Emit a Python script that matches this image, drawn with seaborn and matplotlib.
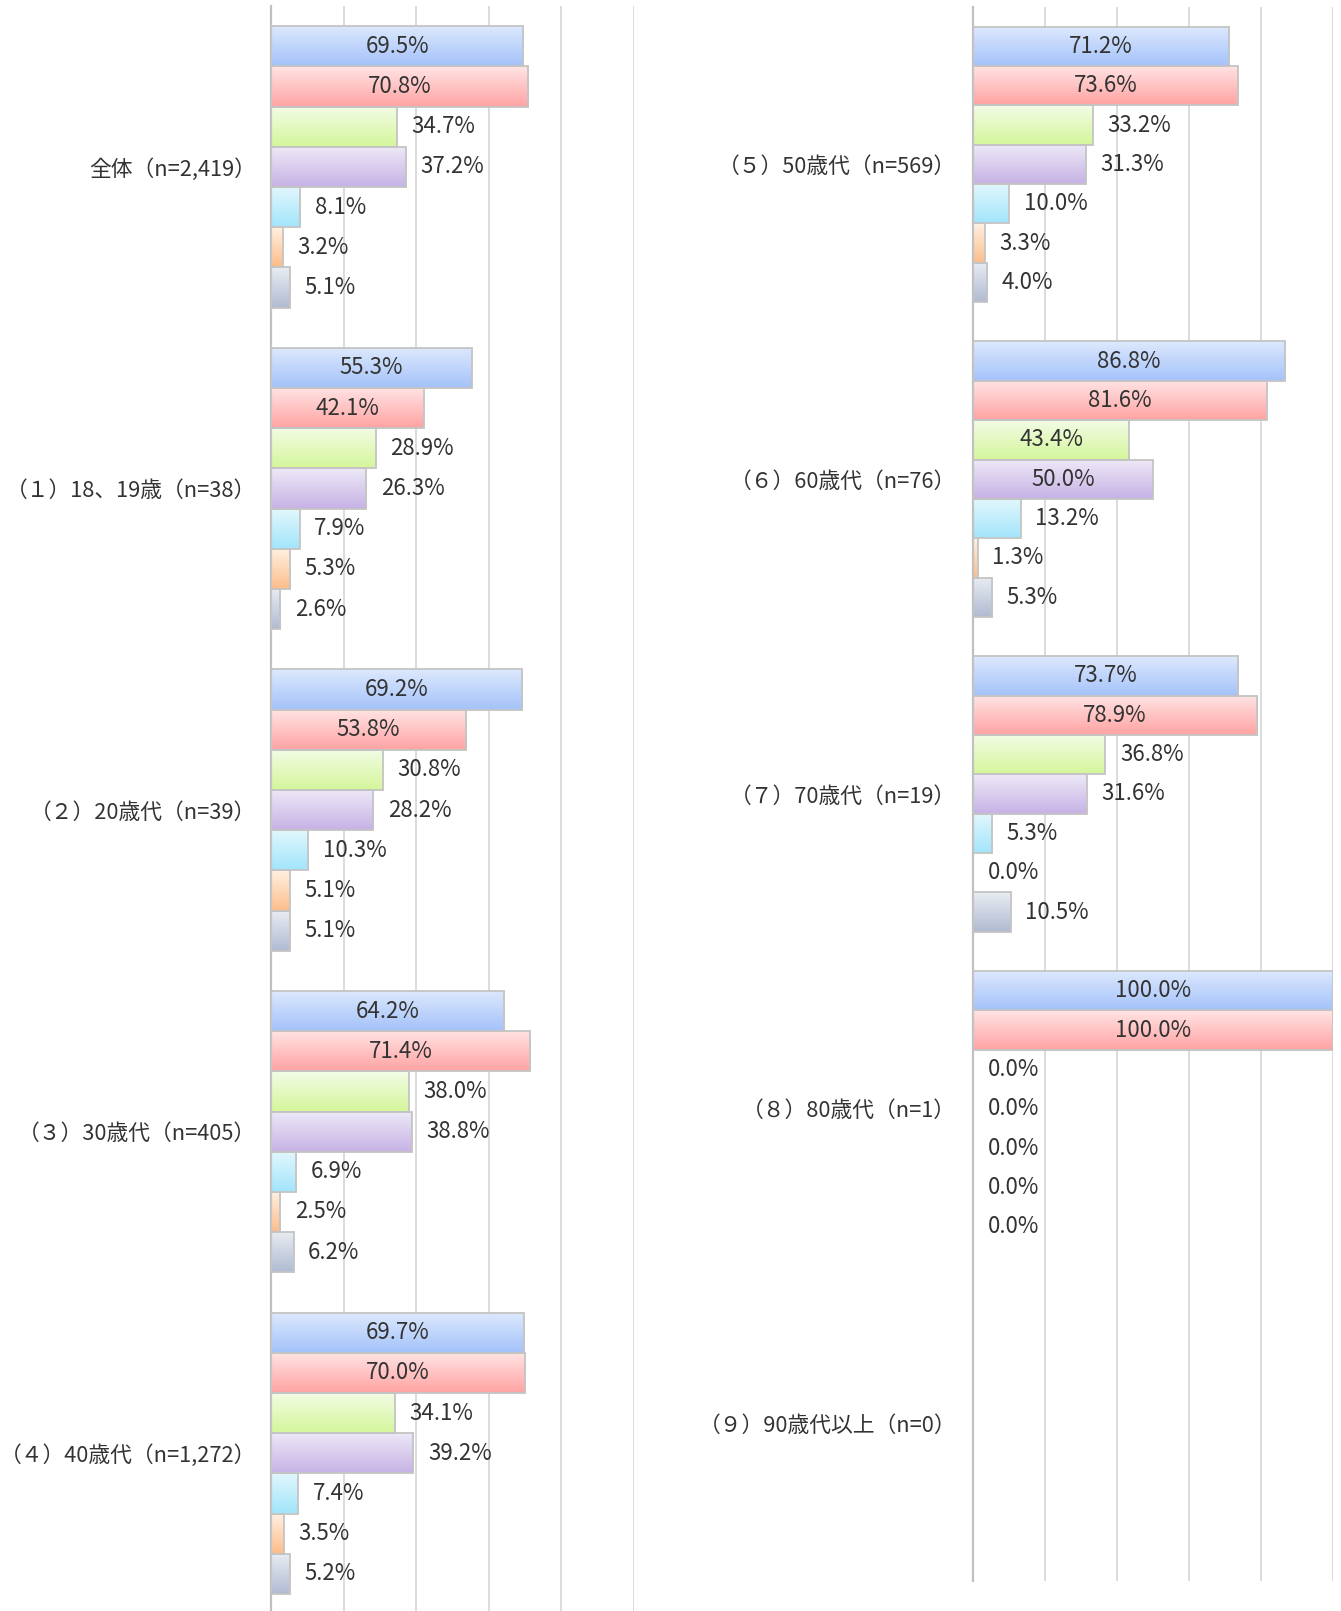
import numpy as np
import pandas as pd
import matplotlib
matplotlib.use("Agg")
import matplotlib.pyplot as plt
import matplotlib.colors as mcolors
import seaborn as sns

# --- data ---
series = ["項目1", "項目2", "項目3", "項目4", "項目5", "項目6", "項目7"]

left_groups = ["全体（n=2,419）", "（１）18、19歳（n=38）", "（２）20歳代（n=39）",
               "（３）30歳代（n=405）", "（４）40歳代（n=1,272）"]
left_values = [
    [69.5, 70.8, 34.7, 37.2, 8.1, 3.2, 5.1],
    [55.3, 42.1, 28.9, 26.3, 7.9, 5.3, 2.6],
    [69.2, 53.8, 30.8, 28.2, 10.3, 5.1, 5.1],
    [64.2, 71.4, 38.0, 38.8, 6.9, 2.5, 6.2],
    [69.7, 70.0, 34.1, 39.2, 7.4, 3.5, 5.2],
]

right_groups = ["（５）50歳代（n=569）", "（６）60歳代（n=76）", "（７）70歳代（n=19）",
                "（８）80歳代（n=1）", "（９）90歳代以上（n=0）"]
right_values = [
    [71.2, 73.6, 33.2, 31.3, 10.0, 3.3, 4.0],
    [86.8, 81.6, 43.4, 50.0, 13.2, 1.3, 5.3],
    [73.7, 78.9, 36.8, 31.6, 5.3, 0.0, 10.5],
    [100.0, 100.0, 0.0, 0.0, 0.0, 0.0, 0.0],
    [np.nan] * 7,
]

# gradient colours per series (top, bottom)
grad_colors = [
    ("#dde9fd", "#a4c2fa"),
    ("#ffe4e4", "#ffa3a3"),
    ("#f3fce6", "#d4f69a"),
    ("#eee9f7", "#c6b2e5"),
    ("#e3f7fd", "#a2e5fb"),
    ("#fff1e3", "#fdbd8a"),
    ("#e9ecf2", "#b0bbd2"),
]

sns.set_style("white")
plt.rcParams["font.family"] = ["Noto Sans CJK JP", "DejaVu Sans"]
TEXT = "#333333"
FS = 16
FS_CAT = 15.7


def to_long(groups, values):
    rows = []
    for g, vals in zip(groups, values):
        for s, v in zip(series, vals):
            rows.append({"group": g, "series": s, "value": v})
    return pd.DataFrame(rows)


def gradient_fill(ax, patch, top, bottom):
    x0, y0 = patch.get_x(), patch.get_y()
    w, h = patch.get_width(), patch.get_height()
    if w <= 0:
        return
    c1 = np.array(mcolors.to_rgb(top))
    c2 = np.array(mcolors.to_rgb(bottom))
    t = np.linspace(0, 1, 64)[:, None]
    img = (c1 * (1 - t) + c2 * t)[:, None, :]
    ymin, ymax = min(y0, y0 + h), max(y0, y0 + h)
    # y axis is inverted, so ymin is the visual top
    im = ax.imshow(img, extent=(x0, x0 + w, ymax, ymin), origin="upper",
                   aspect="auto", interpolation="bilinear", zorder=2)
    im.set_clip_path(patch)
    patch.set_facecolor("none")
    patch.set_zorder(3)


def draw_panel(ax, groups, values, pad):
    df = to_long(groups, values)
    sns.barplot(data=df, y="group", x="value", hue="series", order=groups,
                hue_order=series, orient="h", width=0.875, dodge=True,
                errorbar=None, legend=False, ax=ax,
                edgecolor="#c4c4c4", linewidth=1.3, saturation=1)
    ax.set_xlim(0, 100)
    ax.set_ylim(len(groups) - 0.5, -0.5)

    for k, cont in enumerate(ax.containers):
        top, bottom = grad_colors[k]
        for patch, val in zip(cont.patches, cont.datavalues):
            if np.isnan(val):
                continue
            gradient_fill(ax, patch, top, bottom)
            yc = patch.get_y() + patch.get_height() / 2
            label = f"{val:.1f}%"
            if val >= 40:
                ax.text(val / 2, yc, label, ha="center", va="center",
                        fontsize=FS, color=TEXT, zorder=5)
            else:
                ax.annotate(label, (val, yc), xytext=(10.5, 0),
                            textcoords="offset points", ha="left", va="center",
                            fontsize=FS, color=TEXT, zorder=5)

    ax.set_xlim(0, 100)
    ax.set_ylim(len(groups) - 0.5, -0.5)
    ax.set_xticks([20, 40, 60, 80, 100])
    ax.xaxis.grid(True, color="#d9d9d9", linewidth=1.3)
    ax.yaxis.grid(False)
    ax.set_axisbelow(True)
    ax.tick_params(axis="x", length=0, labelbottom=False)
    ax.tick_params(axis="y", length=0, pad=pad, labelsize=FS_CAT, labelcolor=TEXT)
    ax.set_xlabel("")
    ax.set_ylabel("")
    for side in ["top", "right", "bottom"]:
        ax.spines[side].set_visible(False)
    ax.spines["left"].set_color("#c0c0c0")
    ax.spines["left"].set_linewidth(1.6)


fig = plt.figure(figsize=(13.41, 16.11), dpi=100)
W, H = 1341, 1611
ax_l = fig.add_axes([271 / W, (H - 1614) / H, 363 / W, 1608 / H])
ax_r = fig.add_axes([973 / W, (H - 1581) / H, 360 / W, 1574 / H])

draw_panel(ax_l, left_groups, left_values, pad=10.5)
draw_panel(ax_r, right_groups, right_values, pad=12)

fig.savefig("out.png", dpi=100, facecolor="white")
